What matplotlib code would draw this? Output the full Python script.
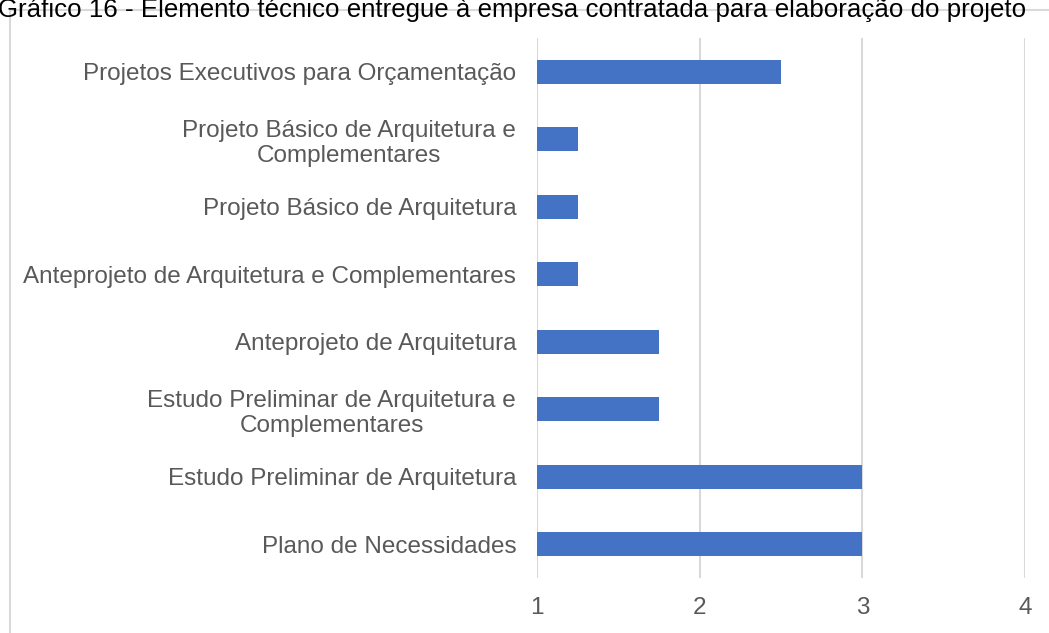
import matplotlib
matplotlib.use("Agg")
import matplotlib.pyplot as plt
from matplotlib.patches import Rectangle

plt.rcParams['font.family'] = ['Liberation Sans', 'DejaVu Sans']

# Data (bottom to top as drawn)
categories = [
    "Plano de Necessidades",
    "Estudo Preliminar de Arquitetura",
    "Estudo Preliminar de Arquitetura e\nComplementares",
    "Anteprojeto de Arquitetura",
    "Anteprojeto de Arquitetura e Complementares",
    "Projeto Básico de Arquitetura",
    "Projeto Básico de Arquitetura e\nComplementares",
    "Projetos Executivos para Orçamentação",
]
values = [3, 3, 1.75, 1.75, 1.25, 1.25, 1.25, 2.5]
x_ticks = [1, 2, 3, 4]
title = "Gráfico 16 - Elemento técnico entregue à empresa contratada para elaboração do projeto"

fig = plt.figure(figsize=(10.49, 6.33), dpi=100)

# chart frame (runs off the right and bottom edges)
fig.patches.append(Rectangle((10 / 1049, -0.1), 1.2, (633 - 10) / 633 + 0.1,
                             transform=fig.transFigure, fill=False,
                             edgecolor="#d9d9d9", linewidth=1.5))

# caption at the very top (clipped in the source)
fig.text(-0.002, 1 - 17 / 633, title, ha="left", va="baseline",
         fontsize=18.6, color="black")

ax = fig.add_axes([537 / 1049, 55 / 633, (1025 - 537) / 1049, (578 - 38) / 633])
pos = list(range(len(categories)))
base = 1
ax.barh(pos, [v - base for v in values], left=base, height=0.35,
        color="#4472C4", zorder=3)

ax.set_xlim(1, 4)
ax.set_ylim(-0.5, len(categories) - 0.5)
ax.set_xticks(x_ticks)
ax.set_xticklabels([str(t) for t in x_ticks])
ax.set_yticks(pos)
ax.set_yticklabels(categories, multialignment="center", linespacing=1.2)
ax.tick_params(axis="both", length=0, labelsize=17.5, labelcolor="#595959")
ax.tick_params(axis="y", pad=15)
ax.tick_params(axis="x", pad=14)
ax.grid(axis="x", color="#d9d9d9", linewidth=1.5, zorder=0)
for s in ax.spines.values():
    s.set_visible(False)

plt.savefig("out.png", dpi=100)
